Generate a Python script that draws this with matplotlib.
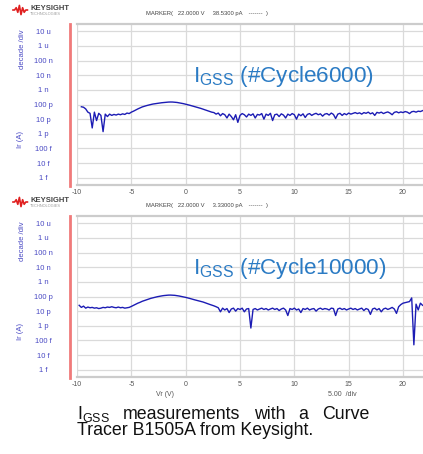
import matplotlib
matplotlib.use("Agg")
import matplotlib.pyplot as plt
import numpy as np
from matplotlib.lines import Line2D

# sweep settings (V)
v_start_6000 = -9.6
v_start_10000 = -9.8
v_step = 0.2

# Ir in pA, one value per sweep step
ir_6000 = [70, 65, 50, 30, 25, 2.5, 30, 8, 25, 18, 1.4, 22, 15, 22, 18, 21, 19, 22, 20, 23,
           21, 26, 24, 30, 35, 42, 50, 58, 68, 76, 84, 92, 100, 108, 114, 120, 126, 132, 137, 142,
           146, 148, 147, 143, 138, 130, 122, 114, 105, 96, 88, 80, 72, 66, 60, 54, 48, 42, 38, 34,
           30, 28, 22, 26, 17, 24, 20, 12, 22, 15, 9, 20, 6, 18, 24, 20, 14, 22, 18, 23,
           12, 21, 19, 24, 10, 22, 18, 25, 8, 20, 22, 15, 23, 19, 12, 22, 18, 24, 20, 10,
           22, 17, 23, 13, 21, 24, 18, 22, 25, 20, 23, 16, 22, 24, 19, 26, 21, 11, 22, 25,
           18, 24, 20, 26, 22, 25, 28, 24, 27, 22, 28, 25, 30, 23, 27, 18, 29, 26, 30, 24,
           28, 31, 26, 20, 29, 32, 27, 31, 28, 33, 30, 24, 32, 34, 30, 35, 33, 38]

ir_10000 = [25, 18, 22, 16, 19, 17, 18, 16, 17, 15, 16, 18, 17, 19, 18, 20, 18, 17, 19, 17,
            18, 16, 17, 18, 21, 25, 30, 35, 40, 47, 53, 60, 68, 75, 82, 90, 97, 104, 110, 116,
            120, 124, 125, 123, 120, 114, 108, 101, 94, 87, 80, 73, 66, 60, 55, 50, 46, 42, 37, 33,
            29, 26, 23, 20, 17, 9, 16, 12, 15, 8, 14, 16, 10, 15, 13, 16, 9, 14, 15, 0.7,
            13, 15, 12, 14, 16, 13, 15, 12, 14, 16, 13, 15, 11, 14, 16, 12, 5, 15, 13, 16,
            12, 14, 8, 15, 13, 16, 12, 14, 15, 10, 14, 16, 13, 15, 14, 12, 16, 15, 5, 14,
            16, 13, 15, 12, 14, 16, 13, 15, 12, 14, 16, 11, 15, 13, 6, 14, 16, 12, 15, 9,
            14, 16, 13, 15, 18, 14, 7, 20, 28, 35, 38, 42, 45, 80, 0.05, 30, 12, 35, 25]

ytick_labels = ["10 u", "1 u", "100 n", "10 n", "1 n", "100 p", "10 p", "1 p", "100 f", "10 f", "1 f"]
xtick_values = [-10, -5, 0, 5, 10, 15, 20]
titles = ["I$_{\\mathrm{GSS}}$ (#Cycle6000)", "I$_{\\mathrm{GSS}}$ (#Cycle10000)"]
markers = ["MARKER(   22.0000 V     38.5300 pA    -------  )",
           "MARKER(   22.0000 V     3.33000 pA    -------  )"]
cap_words = ["I$_{\\mathrm{GSS}}$", "measurements", "with", "a", "Curve"]
cap_line2 = "Tracer B1505A from Keysight."

# little keysight wave logo
logo_wave = [0, 0, 1, -1, 2, -2, 1, -1, 0, 0]

plt.rcParams["font.family"] = ["Liberation Sans", "DejaVu Sans"]
plt.rcParams["mathtext.fontset"] = "custom"
plt.rcParams["mathtext.rm"] = "Liberation Sans"

W, H = 423, 454
fig = plt.figure(figsize=(W / 100, H / 100), dpi=100)

curve_col = "#1c1cb4"
label_col = "#4a4ac4"
grid_col = "#dadada"
narrow = ["Liberation Sans Narrow", "Liberation Sans"]

def fx(px):
    return px / W

def fy(py):
    return 1 - py / H

datasets = [(v_start_6000, ir_6000), (v_start_10000, ir_10000)]

for k, (v0, ir) in enumerate(datasets):
    off = 192 * k
    top, bottom = 24 + off, 185 + off
    ax = fig.add_axes([fx(77), fy(bottom), 1 - fx(77), (bottom - top) / H])

    volts = v0 + v_step * np.arange(len(ir))
    amps = np.array(ir) * 1e-12
    ax.plot(volts, amps, color=curve_col, lw=1.0)

    ax.set_yscale("log")
    ax.set_ylim(10 ** -15.5, 10 ** -4.5)
    ax.set_xlim(-10, 21.84)
    ax.set_yticks([10.0 ** e for e in range(-5, -16, -1)])
    ax.set_yticklabels(ytick_labels, ha="center", color=label_col, family=narrow, fontsize=5.5)
    ax.yaxis.set_minor_locator(matplotlib.ticker.NullLocator())
    ax.set_xticks(xtick_values)
    ax.set_xticklabels([str(v) for v in xtick_values], color="#555555", fontsize=5, family=narrow)
    ax.tick_params(axis="y", length=0, pad=24)
    ax.tick_params(axis="x", length=0, pad=3)
    ax.grid(True, color=grid_col, lw=0.9)
    ax.set_axisbelow(True)
    for side in ["left", "right"]:
        ax.spines[side].set_visible(False)
    for side in ["top", "bottom"]:
        ax.spines[side].set_color("#cccccc")
        ax.spines[side].set_linewidth(1.6)

    ax.text(fx(193), fy(82 + off), titles[k], transform=fig.transFigure,
            fontsize=16.2, color="#2b7bc4", va="baseline")

    # red bar at left of the plot
    fig.add_artist(Line2D([fx(70), fx(70)], [fy(top), fy(bottom + 1)],
                          color="#f07a7a", lw=2))

    # axis descriptions
    fig.text(fx(22), fy(49 + off), "decade /div", rotation=90, ha="center", va="center",
             color=label_col, fontsize=5.5, family=narrow)
    fig.text(fx(20), fy(140 + off), "Ir (A)", rotation=90, ha="center", va="center",
             color=label_col, fontsize=5.5, family=narrow)

    # header: logo and marker readout
    ly = 10 + off
    lx = 13 + np.arange(len(logo_wave)) * 1.6
    fig.add_artist(Line2D([fx(x) for x in lx], [fy(ly - 2.3 * w) for w in logo_wave],
                          color="#e02020", lw=1.2))
    fig.text(fx(30), fy(ly - 2), "KEYSIGHT", fontsize=5.5, color="#444444",
             fontweight="bold", va="center")
    fig.text(fx(30), fy(ly + 4), "TECHNOLOGIES", fontsize=2.8, color="#999999", va="center")
    fig.text(fx(146), fy(ly + 3), markers[k], fontsize=4.2, color="#444444", va="center")

fig.text(fx(165), fy(395), "Vr (V)", fontsize=5, color="#555555", ha="center", va="center")
fig.text(fx(342), fy(395), "5.00  /div", fontsize=5, color="#555555", ha="center", va="center")

# caption, first line justified between x=77 and x=369
cap_size = 12.8
renderer = fig.canvas.get_renderer()
word_texts = [fig.text(0, fy(419), w, fontsize=cap_size, color="#111111", va="baseline")
              for w in cap_words]
widths = [t.get_window_extent(renderer).width for t in word_texts]
gap = (369 - 77 - sum(widths)) / (len(cap_words) - 1)
x = 77
for t, w in zip(word_texts, widths):
    t.set_x(fx(x))
    x += w + gap
fig.text(fx(77), fy(435), cap_line2, fontsize=cap_size, color="#111111", va="baseline")

fig.savefig("out.png", dpi=100)
